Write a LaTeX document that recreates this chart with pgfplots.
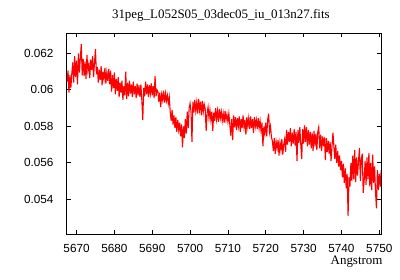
\documentclass[border=0pt]{standalone}
\usepackage{pgfplots}
\pgfplotsset{compat=1.18}
\usepackage{pgfplotstable}
\usepackage{fontspec}
\setmainfont{Liberation Serif}
\setsansfont{Liberation Sans}
\definecolor{specred}{RGB}{255,0,0}

\pgfplotstableread{
x y
5667.50 0.06045
5667.75 0.06105
5668.00 0.05985
5668.25 0.06080
5668.50 0.06010
5668.75 0.06090
5669.00 0.06150
5669.25 0.06040
5669.50 0.06185
5669.75 0.06070
5670.00 0.06160
5670.25 0.06030
5670.50 0.06200
5670.75 0.06095
5671.00 0.06175
5671.25 0.06250
5671.50 0.06080
5671.75 0.06170
5672.00 0.06075
5672.25 0.06155
5672.50 0.06060
5672.75 0.06190
5673.00 0.06105
5673.25 0.06140
5673.50 0.06065
5673.75 0.06165
5674.00 0.06110
5674.25 0.06185
5674.50 0.06070
5674.75 0.06150
5675.00 0.06225
5675.25 0.06085
5675.50 0.06125
5675.75 0.06040
5676.00 0.06110
5676.25 0.06055
5676.50 0.06130
5676.75 0.06025
5677.00 0.06100
5677.25 0.06060
5677.50 0.06120
5677.75 0.06035
5678.00 0.06095
5678.25 0.06050
5678.50 0.06115
5678.75 0.06030
5679.00 0.06105
5679.25 0.05990
5679.50 0.06080
5679.75 0.06010
5680.00 0.06095
5680.25 0.05975
5680.50 0.06060
5680.75 0.05995
5681.00 0.06070
5681.25 0.05960
5681.50 0.06040
5681.75 0.05985
5682.00 0.06050
5682.25 0.05945
5682.50 0.06020
5682.75 0.05970
5683.00 0.06100
5683.25 0.05950
5683.50 0.06040
5683.75 0.05965
5684.00 0.06050
5684.25 0.05980
5684.50 0.06030
5684.75 0.05960
5685.00 0.06045
5685.25 0.05975
5685.50 0.06020
5685.75 0.05955
5686.00 0.06035
5686.25 0.05970
5686.50 0.06025
5686.75 0.05960
5687.00 0.06030
5687.25 0.05945
5687.50 0.05835
5687.75 0.06010
5688.00 0.05965
5688.25 0.06045
5688.50 0.05975
5688.75 0.06030
5689.00 0.05960
5689.25 0.06025
5689.50 0.05980
5689.75 0.06035
5690.00 0.05970
5690.25 0.06020
5690.50 0.05955
5690.75 0.06075
5691.00 0.05965
5691.25 0.06000
5691.50 0.05990
5691.75 0.05935
5692.00 0.05985
5692.25 0.05905
5692.50 0.05975
5692.75 0.05945
5693.00 0.05995
5693.25 0.05930
5693.50 0.05980
5693.75 0.05940
5694.00 0.05970
5694.25 0.05925
5694.50 0.05960
5694.75 0.05880
5695.00 0.05830
5695.25 0.05890
5695.50 0.05810
5695.75 0.05860
5696.00 0.05790
5696.25 0.05850
5696.50 0.05770
5696.75 0.05835
5697.00 0.05780
5697.25 0.05820
5697.50 0.05745
5697.75 0.05810
5698.00 0.05685
5698.25 0.05800
5698.50 0.05735
5698.75 0.05840
5699.00 0.05760
5699.25 0.05880
5699.50 0.05790
5699.75 0.05900
5700.00 0.05925
5700.25 0.05880
5700.50 0.05715
5700.75 0.05935
5701.00 0.05875
5701.25 0.05945
5701.50 0.05885
5701.75 0.05930
5702.00 0.05870
5702.25 0.05950
5702.50 0.05890
5702.75 0.05935
5703.00 0.05860
5703.25 0.05940
5703.50 0.05880
5703.75 0.05920
5704.00 0.05895
5704.25 0.05775
5704.50 0.05870
5704.75 0.05905
5705.00 0.05845
5705.25 0.05890
5705.50 0.05835
5705.75 0.05880
5706.00 0.05775
5706.25 0.05875
5706.50 0.05830
5706.75 0.05900
5707.00 0.05840
5707.25 0.05885
5707.50 0.05825
5707.75 0.05895
5708.00 0.05845
5708.25 0.05880
5708.50 0.05830
5708.75 0.05870
5709.00 0.05820
5709.25 0.05885
5709.50 0.05835
5709.75 0.05865
5710.00 0.05825
5710.25 0.05870
5710.50 0.05810
5710.75 0.05750
5711.00 0.05840
5711.25 0.05725
5711.50 0.05860
5711.75 0.05795
5712.00 0.05850
5712.25 0.05780
5712.50 0.05845
5712.75 0.05800
5713.00 0.05855
5713.25 0.05770
5713.50 0.05840
5713.75 0.05790
5714.00 0.05860
5714.25 0.05795
5714.50 0.05835
5714.75 0.05755
5715.00 0.05850
5715.25 0.05800
5715.50 0.05845
5715.75 0.05785
5716.00 0.05855
5716.25 0.05790
5716.50 0.05840
5716.75 0.05765
5717.00 0.05850
5717.25 0.05800
5717.50 0.05835
5717.75 0.05785
5718.00 0.05845
5718.25 0.05790
5718.50 0.05830
5718.75 0.05775
5719.00 0.05820
5719.25 0.05690
5719.50 0.05800
5719.75 0.05760
5720.00 0.05820
5720.25 0.05745
5720.50 0.05835
5720.75 0.05870
5721.00 0.05770
5721.25 0.05800
5721.50 0.05740
5721.75 0.05720
5722.00 0.05665
5722.25 0.05735
5722.50 0.05650
5722.75 0.05715
5723.00 0.05680
5723.25 0.05725
5723.50 0.05640
5723.75 0.05710
5724.00 0.05670
5724.25 0.05730
5724.50 0.05645
5724.75 0.05700
5725.00 0.05730
5725.25 0.05660
5725.50 0.05780
5725.75 0.05700
5726.00 0.05770
5726.25 0.05715
5726.50 0.05790
5726.75 0.05690
5727.00 0.05765
5727.25 0.05705
5727.50 0.05785
5727.75 0.05695
5728.00 0.05770
5728.25 0.05610
5728.50 0.05780
5728.75 0.05710
5729.00 0.05795
5729.25 0.05700
5729.50 0.05620
5729.75 0.05785
5730.00 0.05705
5730.25 0.05805
5730.50 0.05715
5730.75 0.05795
5731.00 0.05690
5731.25 0.05780
5731.50 0.05700
5731.75 0.05770
5732.00 0.05680
5732.25 0.05765
5732.50 0.05665
5732.75 0.05775
5733.00 0.05690
5733.25 0.05760
5733.50 0.05670
5733.75 0.05770
5734.00 0.05795
5734.25 0.05680
5734.50 0.05755
5734.75 0.05665
5735.00 0.05745
5735.25 0.05690
5735.50 0.05740
5735.75 0.05615
5736.00 0.05735
5736.25 0.05660
5736.50 0.05720
5736.75 0.05650
5737.00 0.05715
5737.25 0.05610
5737.50 0.05690
5737.75 0.05765
5738.00 0.05690
5738.25 0.05620
5738.50 0.05700
5738.75 0.05600
5739.00 0.05665
5739.25 0.05580
5739.50 0.05640
5739.75 0.05560
5740.00 0.05610
5740.25 0.05520
5740.50 0.05595
5740.75 0.05490
5741.00 0.05570
5741.25 0.05460
5741.50 0.05540
5741.75 0.05310
5742.00 0.05520
5742.25 0.05470
5742.50 0.05600
5742.75 0.05500
5743.00 0.05640
5743.25 0.05510
5743.50 0.05670
5743.75 0.05495
5744.00 0.05630
5744.25 0.05530
5744.50 0.05610
5744.75 0.05680
5745.00 0.05500
5745.25 0.05620
5745.50 0.05650
5745.75 0.05435
5746.00 0.05505
5746.25 0.05610
5746.50 0.05480
5746.75 0.05630
5747.00 0.05510
5747.25 0.05655
5747.50 0.05470
5747.75 0.05600
5748.00 0.05450
5748.25 0.05645
5748.50 0.05490
5748.75 0.05580
5749.00 0.05440
5749.25 0.05350
5749.50 0.05560
5749.75 0.05450
5750.00 0.05540
5750.25 0.05470
5750.50 0.05560
}\spectrum

\begin{document}
\begin{tikzpicture}
\path[use as bounding box] (-66.7bp,-46bp) rectangle (333.3bp,234bp);
\begin{axis}[
  scale only axis,
  width=314.3bp, height=200.7bp,
  at={(0,0)}, anchor=south west,
  xmin=5667.4, xmax=5750.45,
  ymin=0.0521, ymax=0.0631,
  xtick={5670,5680,5690,5700,5710,5720,5730,5740,5750},
  ytick={0.054,0.056,0.058,0.06,0.062},
  minor tick num=0,
  tick align=inside,
  major tick length=4bp,
  axis line style={line width=0.8bp},
  every tick/.style={black, line width=0.8bp},
  scaled x ticks=false, scaled y ticks=false,
  /pgf/number format/assume math mode=true,
  xticklabel style={font=\sffamily\fontsize{11.8}{13}\selectfont, yshift=-6.3bp,
    /pgf/number format/.cd, 1000 sep={}},
  yticklabel style={font=\sffamily\fontsize{11.8}{13}\selectfont, xshift=-9.7bp,
    /pgf/number format/.cd, fixed, precision=3},
  title={31peg\_L052S05\_03dec05\_iu\_013n27.fits},
  title style={font=\fontsize{13}{15}\selectfont, at={(0.5,1)}, anchor=base, yshift=9.3bp, xshift=-3bp},
  xlabel={Angstrom},
  xlabel style={font=\fontsize{13}{15}\selectfont, at={(1,0)}, anchor=base east, xshift=5bp, yshift=-30bp},
]
\addplot[specred, line width=1.1bp, mark=none] table[x=x, y=y] {\spectrum};
\end{axis}
\end{tikzpicture}
\end{document}
